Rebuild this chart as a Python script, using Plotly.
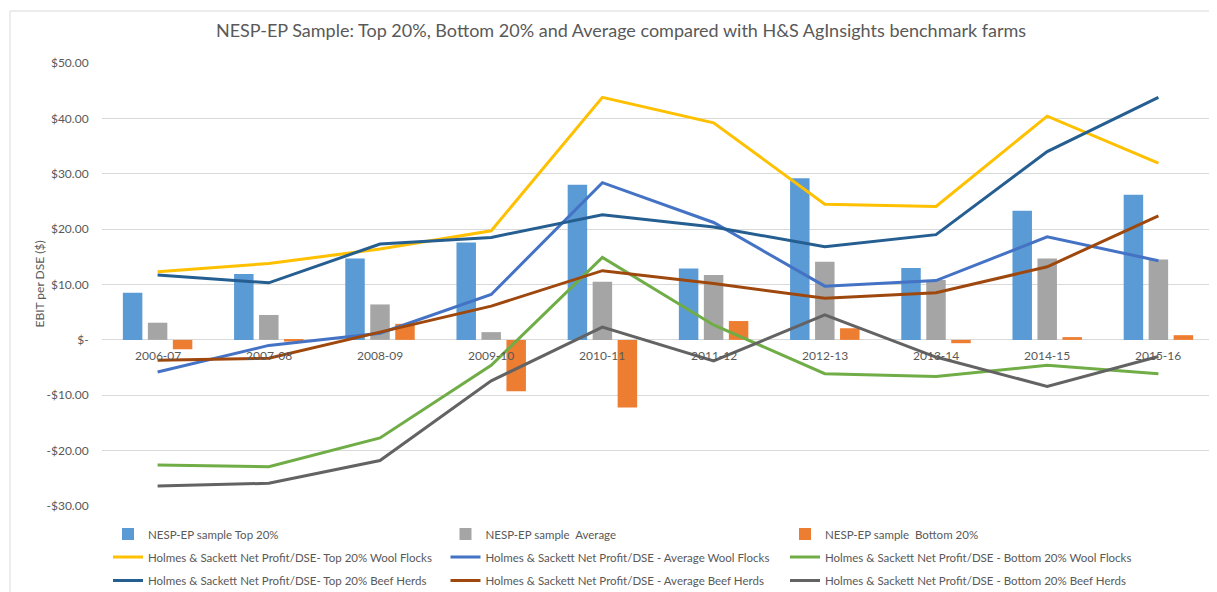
import plotly.graph_objects as go

categories = ["2006-07", "2007-08", "2008-09", "2009-10", "2010-11",
              "2011-12", "2012-13", "2013-14", "2014-15", "2015-16"]

nesp_top20 = [8.5, 11.9, 14.7, 17.6, 28.0, 12.9, 29.2, 13.0, 23.3, 26.2]
nesp_avg = [3.1, 4.5, 6.4, 1.4, 10.5, 11.7, 14.1, 10.8, 14.7, 14.5]
nesp_bottom20 = [-1.7, -0.3, 2.9, -9.3, -12.2, 3.4, 2.1, -0.6, 0.5, 0.85]

hs_wool_top20 = [12.3, 13.8, 16.4, 19.7, 43.8, 39.2, 24.5, 24.1, 40.4, 31.9]
hs_wool_avg = [-5.8, -1.0, 1.2, 8.2, 28.4, 21.2, 9.7, 10.7, 18.6, 14.3]
hs_wool_bottom20 = [-22.6, -22.9, -17.7, -4.6, 14.9, 2.7, -6.1, -6.6, -4.6, -6.1]
hs_beef_top20 = [11.7, 10.3, 17.3, 18.5, 22.6, 20.4, 16.8, 19.0, 34.0, 43.8]
hs_beef_avg = [-3.7, -3.3, 1.4, 6.1, 12.5, 10.2, 7.5, 8.5, 13.2, 22.4]
hs_beef_bottom20 = [-26.4, -25.9, -21.8, -7.4, 2.3, -3.8, 4.5, -3.1, -8.4, -3.0]

ytick_vals = [50, 40, 30, 20, 10, 0, -10, -20, -30]
ytick_text = ["$50.00", "$40.00", "$30.00", "$20.00", "$10.00", "$-",
              "-$10.00", "-$20.00", "-$30.00"]

title_text = ("NESP-EP Sample: Top 20%, Bottom 20% and Average compared "
              "with H&S AgInsights benchmark farms")
y_title = "EBIT per DSE ($)"

FONT = "Lato"
TXT = "#595959"
# page body has an 8px margin, so the figure is laid out 8px smaller
W, H = 1209, 584
ML, MT, MR, MB = 94, 55, 3, 86
PW, PH = W - ML - MR, H - MT - MB

fig = go.Figure()

# legend grid (figure-pixel positions of each legend box)
col_px = [100, 437.5, 777]
row_px = [526, 549, 572.5]

bars = [
    ("NESP-EP sample Top 20%", nesp_top20, "#5B9BD5"),
    ("NESP-EP sample  Average", nesp_avg, "#A5A5A5"),
    ("NESP-EP sample  Bottom 20%", nesp_bottom20, "#ED7D31"),
]
lines = [
    ("Holmes & Sackett Net Profit/DSE- Top 20% Wool Flocks", hs_wool_top20, "#FFC000"),
    ("Holmes & Sackett Net Profit/DSE - Average Wool Flocks", hs_wool_avg, "#4472C4"),
    ("Holmes & Sackett Net Profit/DSE - Bottom 20% Wool Flocks", hs_wool_bottom20, "#70AD47"),
    ("Holmes & Sackett Net Profit/DSE- Top 20% Beef Herds", hs_beef_top20, "#255E91"),
    ("Holmes & Sackett Net Profit/DSE - Average Beef Herds", hs_beef_avg, "#9E480E"),
    ("Holmes & Sackett Net Profit/DSE - Bottom 20% Beef Herds", hs_beef_bottom20, "#636363"),
]

legend_layouts = {}
idx = 0
for name, vals, col in bars:
    lg = "legend" if idx == 0 else f"legend{idx + 1}"
    fig.add_trace(go.Bar(x=categories, y=vals, name=name, marker_color=col,
                         marker_line_width=0, legend=lg))
    legend_layouts[lg] = (col_px[idx % 3], row_px[idx // 3])
    idx += 1
for name, vals, col in lines:
    lg = f"legend{idx + 1}"
    fig.add_trace(go.Scatter(x=categories, y=vals, name=name, mode="lines",
                             line=dict(color=col, width=3), legend=lg))
    legend_layouts[lg] = (col_px[idx % 3], row_px[idx // 3])
    idx += 1

for c in categories:
    fig.add_annotation(x=c, y=0, xref="x", yref="y", text=c, showarrow=False,
                       yanchor="middle", yshift=-16,
                       font=dict(family=FONT, size=12, color=TXT))

fig.add_annotation(text=y_title, xref="paper", yref="paper",
                   x=(31 - ML) / PW, y=0.5, xanchor="center", yanchor="middle",
                   textangle=-90, showarrow=False,
                   font=dict(family=FONT, size=12, color=TXT))

legend_kw = {}
for lg, (px, py) in legend_layouts.items():
    legend_kw[lg] = dict(orientation="h", xref="container", yref="container",
                         x=px / W, y=1 - py / H, xanchor="left", yanchor="middle",
                         font=dict(family=FONT, size=11.5, color=TXT),
                         bgcolor="rgba(0,0,0,0)", itemwidth=30)

fig.update_layout(
    width=W, height=H,
    margin=dict(l=ML, r=MR, t=MT, b=MB, autoexpand=False),
    paper_bgcolor="white", plot_bgcolor="white",
    barmode="group", bargap=0.326, bargroupgap=0.22,
    title=dict(text=title_text, x=613 / W, xref="container", xanchor="center",
               y=1 - 23 / H, yref="container", yanchor="middle",
               font=dict(family=FONT, size=18, color=TXT)),
    xaxis=dict(type="category", categoryorder="array", categoryarray=categories,
               range=[-0.5, len(categories) - 0.5],
               showticklabels=False, showgrid=False, zeroline=False,
               showline=False, ticks="", automargin=False),
    yaxis=dict(range=[-30, 50], tickvals=ytick_vals, ticktext=ytick_text,
               showgrid=True, gridcolor="#D9D9D9", gridwidth=1,
               zeroline=False, showline=False, automargin=False,
               ticks="outside", ticklen=10, tickcolor="rgba(0,0,0,0)",
               tickfont=dict(family=FONT, size=12, color=TXT)),
    showlegend=True,
    **legend_kw,
)

# outer chart border (top and left edges visible in the crop)
bx = (2 - ML) / PW
by = 1 + (MT - 3) / PH
fig.add_shape(type="line", xref="paper", yref="paper",
              x0=bx, x1=1.2, y0=by, y1=by,
              line=dict(color="#D9D9D9", width=1))
fig.add_shape(type="line", xref="paper", yref="paper",
              x0=bx, x1=bx, y0=by, y1=-0.5,
              line=dict(color="#D9D9D9", width=1))

fig.write_html("out.html")
